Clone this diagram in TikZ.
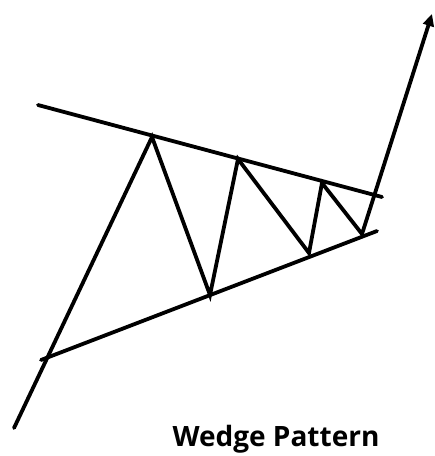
\documentclass[tikz,border=0pt]{standalone}
\usepackage{fontspec}
\setmainfont{Open Sans}
\usetikzlibrary{arrows.meta}
\begin{document}
\begin{tikzpicture}[x=1pt,y=-1pt,
  trend/.style={line width=3.8pt,line cap=round,black},
  zig/.style={line width=3.8pt,line join=miter,line cap=round,black},
  label/.style={font=\bfseries\fontsize{28}{32}\selectfont,anchor=base,inner sep=0pt}]
\useasboundingbox (0,0) rectangle (435,456);
% trend lines
\coordinate (u1) at (38,105);
\coordinate (u2) at (382,197);
\coordinate (l1) at (41,360);
\coordinate (l2) at (377,231);
% zigzag points
\coordinate (z0) at (14,428);
\coordinate (z1) at (152,137);
\coordinate (z2) at (210,295);
\coordinate (z3) at (238,159);
\coordinate (z4) at (309,253);
\coordinate (z5) at (322,183);
\coordinate (z6) at (362,234);
\coordinate (z7) at (432,14);
\draw[trend] (u1) -- (u2);
\draw[trend] (l1) -- (l2);
\draw[zig,-{Triangle[length=12pt,width=11pt]}] (z0) -- (z1) -- (z2) -- (z3) -- (z4) -- (z5) -- (z6) -- (z7);
\node[label] (title) at (276,446) {Wedge Pattern};
\end{tikzpicture}
\end{document}
